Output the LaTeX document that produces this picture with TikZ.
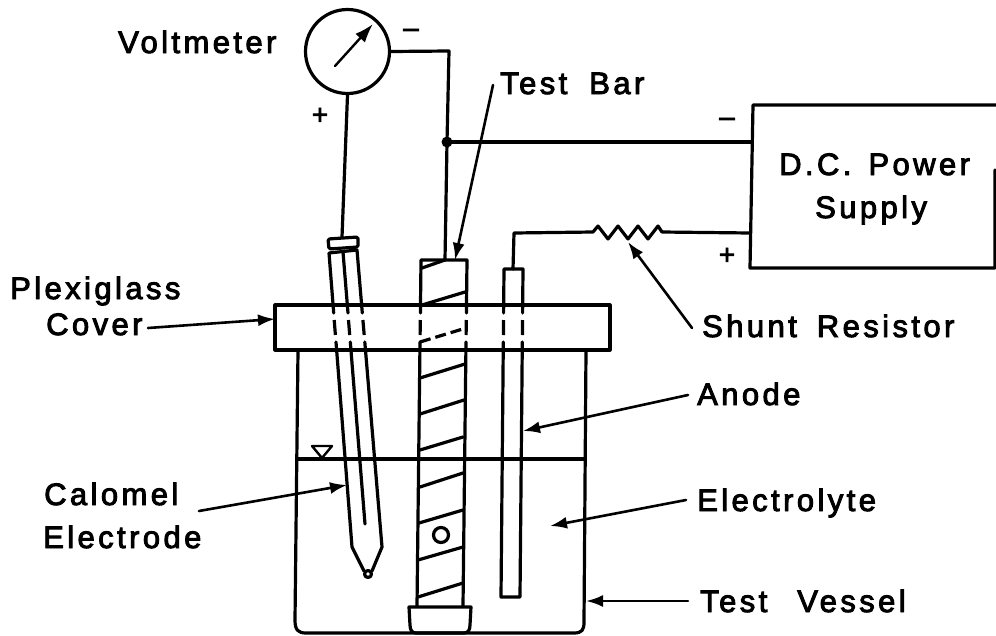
\documentclass[tikz,border=0pt]{standalone}
\usepackage{fontspec}
\newfontfamily\lab[LetterSpace=11,FakeBold=3]{Liberation Sans}
\usetikzlibrary{arrows.meta}
\tikzset{
  x=1pt,y=-1pt,
  ln/.style={line width=3.2pt,line cap=round,line join=round},
  thinln/.style={line width=2.4pt,line cap=round,line join=round},
  lead/.style={line width=2.6pt,line cap=round,-{Latex[length=17pt,width=12pt]}},
  lbl/.style={anchor=base west,inner sep=0pt,font=\lab\fontsize{31}{31}\selectfont},
  sign/.style={inner sep=0pt,font=\lab\fontsize{28}{28}\selectfont},
}
\begin{document}
\begin{tikzpicture}
\useasboundingbox (0,0) rectangle (996,635);
% labels
\node[lbl] (lvolt) at (118,53) {Voltmeter};
\node[lbl] (ltest) at (500,94) {Test\hspace{10pt} Bar};
\node[lbl] (ldc) at (779,175) {D.C.\hspace{5pt} Power};
\node[lbl] (lsup) at (815,218) {Supply};
\node[lbl] (lshunt) at (702,337) {Shunt\hspace{8pt} Resistor};
\node[lbl] (lplex) at (10,299) {Plexiglass};
\node[lbl] (lcov) at (46,335) {Cover};
\node[lbl] (lano) at (697,405) {Anode};
\node[lbl] (lele) at (697,511) {Electrolyte};
\node[lbl] (lcal) at (44,505) {Calomel};
\node[lbl] (lelec) at (43,548) {Electrode};
\node[lbl] (lves) at (700,612) {Test\hspace{18pt} Vessel};
\node[sign] (m1) at (411,33) {–};
\node[sign] (m2) at (727,122) {–};
\node[sign] (p1) at (320,116) {+};
\node[sign] (p2) at (727,256) {+};
% voltmeter
\node[draw,circle,ln,minimum size=84pt,inner sep=0pt] (vm) at (347.5,51.5) {};
\coordinate (nb) at (335,66); \coordinate (nt) at (373,24);
\draw[thinln,-{Latex[length=19pt,width=13pt]}] (nb) -- (nt);
% junction and wires
\coordinate (j) at (447,142);
\coordinate (barwire) at (445,260);
\coordinate (cnr) at (449,51);
\coordinate (psm) at (752,142);
\coordinate (psp) at (750,233);
\draw[ln] (vm.east) -- (cnr) -- (j) -- (barwire);
\fill (j) circle (5.5);
\draw[ln] (j) -- (psm);
% power supply
\draw[ln] (996,105) -- (753,105) -- (750,268) -- (995,268) -- (995,170);
% shunt + anode wire
\coordinate (anw) at (513,269);
\draw[ln] (anw) -- (514,233) -- (593,232) -- (598,226) -- (608,239) -- (618,226) -- (628,239) -- (638,226) -- (648,239) -- (658,226) -- (662,232) -- (psp);
% plexiglass cover
\draw[ln] (275,305) rectangle (610,350);
% vessel
\draw[ln] (298,350) -- (295,620) .. controls (295,630) and (298,633) .. (306,633) -- (574,633) .. controls (582,633) and (584,630) .. (584,622) -- (586,350);
\draw[ln] (297,459) -- (585,459);
\draw[thinln] (312,446) -- (332,446) -- (322,458) -- cycle;
% calomel electrode
\coordinate (capw) at (342,237);
\draw[ln] (vm.south) -- (capw);
\draw[ln,rounded corners=1.5pt] (328,239) -- (358,237) -- (358,247) -- (329,249) -- cycle;
\draw[ln] (333.7,313) -- (329,253) -- (357,250) -- (362.3,313);
\draw[ln] (343,252) -- (348,313);
\foreach \a/\b in {334.2/335.4,348.5/349.7,362.9/364.2}{\draw[ln,line cap=butt] (\a,320) -- (\b,335);}
\draw[ln] (336,342) -- (352,547) -- (364,571);
\draw[ln] (350.3,342) -- (365,524);
\draw[ln] (364.8,342) -- (382,547) -- (372,571);
\draw[ln] (368,574) circle (3.5);
% test bar
\draw[ln] (420.4,313) -- (421,260) -- (467,260) -- (466.4,313);
\draw[ln] (420,342) -- (417,606);
\draw[ln] (466,342) -- (463,606);
\foreach \a/\b in {420.3/420.1,466.3/466.1}{\draw[ln,line cap=butt] (\a,320) -- (\b,335);}
\draw[ln] (422,268) -- (445,260);
\draw[ln] (422,305) -- (465,292);
\draw[ln,line cap=butt,dash pattern=on 11pt off 5pt] (420,342) -- (466,328);
\draw[ln] (420,378) -- (465,364);
\draw[ln] (420,414) -- (464,400);
\draw[ln] (420,450) -- (463,437);
\draw[ln] (420,487) -- (463,473);
\draw[ln] (419,523) -- (463,510);
\draw[ln] (418,560) -- (463,547);
\draw[ln] (418,597) -- (463,583);
\draw[ln] (441,535) circle (7.5);
\draw[ln] (409,607) -- (471,607) -- (470,625) .. controls (470,630) and (468,633) .. (464,633) -- (416,633) .. controls (412,633) and (410,630) .. (410,625) -- cycle;
% anode
\draw[ln] (503.6,313) -- (504,269) -- (523,269) -- (522.6,313);
\draw[ln] (503.3,342) -- (501,597) -- (520,597) -- (522.3,342);
\foreach \a/\b in {503.5/503.4,522.5/522.4}{\draw[ln,line cap=butt] (\a,320) -- (\b,335);}
% leaders
\coordinate (tbt) at (493,85); \coordinate (tbh) at (455,260);
\draw[lead] (tbt) -- (tbh);
\coordinate (sht) at (692,328); \coordinate (shh) at (628,242);
\draw[lead] (sht) -- (shh);
\coordinate (ant) at (688,395); \coordinate (anh) at (523,431);
\draw[lead] (ant) -- (anh);
\coordinate (elt) at (686,500); \coordinate (elh) at (550,526);
\draw[lead] (elt) -- (elh);
\coordinate (vet) at (688,601); \coordinate (veh) at (586,601);
\draw[lead] (vet) -- (veh);
\coordinate (plt) at (148,328); \coordinate (plh) at (275,319);
\draw[lead] (plt) -- (plh);
\coordinate (cat) at (199,511); \coordinate (cah) at (347,485);
\draw[lead] (cat) -- (cah);
\end{tikzpicture}
\end{document}
